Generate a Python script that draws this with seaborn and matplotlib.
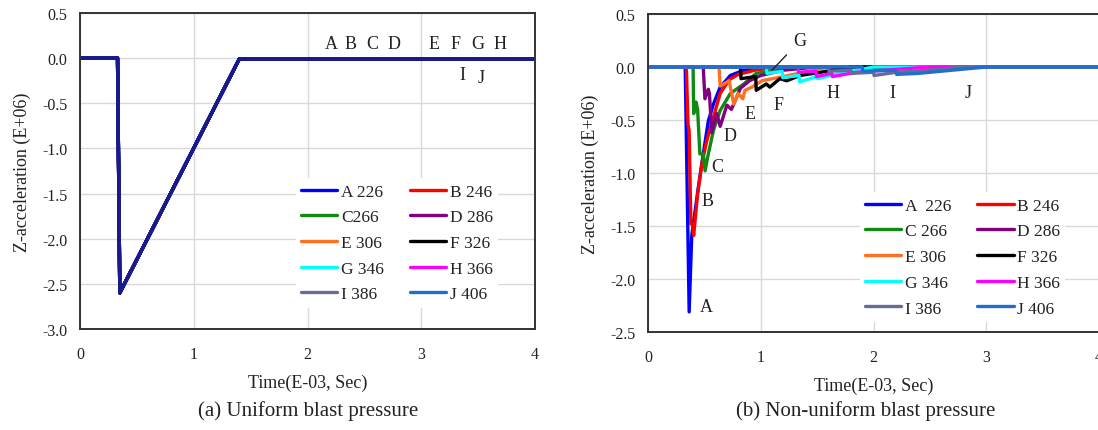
import matplotlib
matplotlib.use("Agg")
import matplotlib.pyplot as plt
from matplotlib.lines import Line2D
from matplotlib.ticker import FormatStrFormatter, MultipleLocator
import pandas as pd
import seaborn as sns

# ---- data -------------------------------------------------------------
series = ["A", "B", "C", "D", "E", "F", "G", "H", "I", "J"]
labels_a = ["A 226", "B 246", "C266", "D 286", "E 306", "F 326", "G 346", "H 366", "I 386", "J 406"]
labels_b = ["A  226", "B 246", "C 266", "D 286", "E 306", "F 326", "G 346", "H 366", "I 386", "J 406"]
colors = ["#0000ff", "#ff0000", "#108a10", "#800080", "#ff7020",
          "#000000", "#00ffff", "#ff00ff", "#6a6a9a", "#1f6fcf"]

# (a) uniform pressure: every gauge gives the same record
uni_t = [0.0, 0.33, 0.35, 1.40, 4.0]
uni_z = [0.0, 0.0, -2.60, -0.01, -0.01]

# (b) non-uniform pressure
a_t = [0, 0.33, 0.365, 0.388, 0.447, 0.49, 0.535, 0.58, 0.64, 0.73, 0.85, 1.0, 4.0]
a_z = [0, 0, -2.31, -1.59, -1.13, -0.82, -0.51, -0.35, -0.19, -0.08, -0.03, 0, 0]
b_t = [0, 0.34, 0.355, 0.365, 0.38, 0.395, 0.405, 0.44, 0.48, 0.52, 0.56, 0.64, 0.72, 0.80, 0.95, 1.15, 4.0]
b_z = [0, 0, -0.54, -0.60, -1.48, -1.48, -1.59, -1.20, -0.90, -0.70, -0.55, -0.25, -0.12, -0.07, -0.03, 0, 0]
c_t = [0, 0.40, 0.405, 0.426, 0.44, 0.46, 0.49, 0.506, 0.535, 0.58, 0.64, 0.73, 0.85, 0.96, 1.3, 4.0]
c_z = [0, 0, -0.44, -0.33, -0.40, -0.82, -0.82, -0.98, -0.82, -0.60, -0.41, -0.25, -0.16, -0.06, 0, 0]
d_t = [0, 0.49, 0.505, 0.535, 0.545, 0.565, 0.61, 0.64, 0.70, 0.74, 0.82, 0.90, 1.0, 1.2, 1.5, 4.0]
d_z = [0, 0, -0.30, -0.21, -0.25, -0.62, -0.44, -0.56, -0.36, -0.40, -0.20, -0.13, -0.08, -0.03, 0, 0]
e_t = [0, 0.63, 0.64, 0.72, 0.76, 0.80, 0.84, 0.86, 0.92, 1.01, 1.2, 1.38, 1.6, 4.0]
e_z = [0, 0, -0.18, -0.13, -0.35, -0.25, -0.30, -0.22, -0.19, -0.13, -0.09, -0.05, 0, 0]
f_t = [0, 0.82, 0.825, 0.955, 0.96, 1.05, 1.08, 1.17, 1.23, 1.35, 1.53, 1.8, 4.0]
f_z = [0, 0, -0.11, -0.09, -0.22, -0.16, -0.19, -0.11, -0.13, -0.08, -0.05, 0, 0]
g_t = [0, 1.05, 1.055, 1.19, 1.195, 1.34, 1.345, 1.5, 1.505, 1.7, 2.0, 4.0]
g_z = [0, 0, -0.06, -0.04, -0.10, -0.08, -0.14, -0.09, -0.11, -0.06, 0, 0]
h_t = [0, 1.33, 1.335, 1.49, 1.495, 1.63, 1.635, 1.85, 2.1, 2.5, 4.0]
h_z = [0, 0, -0.05, -0.04, -0.09, -0.06, -0.09, -0.05, -0.03, 0, 0]
i_t = [0, 1.6, 1.605, 1.8, 1.805, 2.0, 2.005, 2.2, 2.5, 2.8, 4.0]
i_z = [0, 0, -0.04, -0.03, -0.06, -0.05, -0.08, -0.05, -0.03, 0, 0]
j_t = [0, 1.9, 1.905, 2.2, 2.205, 2.4, 2.6, 3.0, 4.0]
j_z = [0, 0, -0.04, -0.03, -0.07, -0.06, -0.04, 0, 0]

# curve labels
lab_a_x = [2.21, 2.38, 2.57, 2.76, 3.11, 3.30, 3.50, 3.69, 3.36, 3.53]
lab_a_y = [0.16, 0.16, 0.16, 0.16, 0.16, 0.16, 0.16, 0.16, -0.18, -0.21]
lab_b_x = [0.515, 0.53, 0.61, 0.73, 0.905, 1.16, 1.35, 1.64, 2.17, 2.84]
lab_b_y = [-2.26, -1.26, -0.94, -0.65, -0.44, -0.35, 0.25, -0.24, -0.24, -0.24]

# ---- long-form tables ---------------------------------------------------
uni = pd.DataFrame([(s, t, z) for s in series for t, z in zip(uni_t, uni_z)],
                   columns=["gauge", "t", "z"])
curves_b = [(a_t, a_z), (b_t, b_z), (c_t, c_z), (d_t, d_z), (e_t, e_z),
            (f_t, f_z), (g_t, g_z), (h_t, h_z), (i_t, i_z), (j_t, j_z)]
nonuni = pd.DataFrame([(s, t, z) for s, (tt, zz) in zip(series, curves_b)
                       for t, z in zip(tt, zz)], columns=["gauge", "t", "z"])

# ---- style --------------------------------------------------------------
sns.set_style("whitegrid")
plt.rcParams["font.family"] = ["Liberation Serif", "DejaVu Serif"]
plt.rcParams["axes.unicode_minus"] = False
ink = "#222222"

fig = plt.figure(figsize=(10.98, 4.31), dpi=100)
ax1 = fig.add_axes([80 / 1098, 1 - 330 / 431, 455 / 1098, 316 / 431])
ax2 = fig.add_axes([648 / 1098, 1 - 333 / 431, 451 / 1098, 318 / 431])


def style_axis(ax, ylim):
    ax.set_xlim(0, 4)
    ax.set_ylim(*ylim)
    ax.xaxis.set_major_locator(MultipleLocator(1))
    ax.yaxis.set_major_locator(MultipleLocator(0.5))
    ax.yaxis.set_major_formatter(FormatStrFormatter("%.1f"))
    ax.grid(True, color="#d9d9d9", linewidth=1.0)
    for sp in ax.spines.values():
        sp.set_color("#333333")
        sp.set_linewidth(1.4)
        sp.set_visible(True)
    ax.tick_params(axis="both", length=0, labelsize=11.5, colors=ink)
    ax.tick_params(axis="x", pad=12)
    ax.tick_params(axis="y", pad=9)
    ax.set_xlabel("Time(E-03, Sec)", fontsize=13, color=ink, labelpad=9)
    ax.set_ylabel("Z-acceleration (E+06)", fontsize=13, color=ink, labelpad=8)


def add_legend(ax, labels, anchor):
    handles = [Line2D([], [], color=c, lw=2.4) for c in colors]
    order = [0, 2, 4, 6, 8, 1, 3, 5, 7, 9]
    leg = ax.legend([handles[k] for k in order], [labels[k] for k in order],
                    ncol=2, loc="lower left", bbox_to_anchor=anchor,
                    frameon=True, fancybox=False, framealpha=1,
                    facecolor="white", edgecolor="none",
                    prop={"size": 12.5}, handlelength=2.1, handletextpad=0.2,
                    labelspacing=0.55, columnspacing=1.5, borderpad=0.3)
    for txt in leg.get_texts():
        txt.set_color(ink)
    leg.set_zorder(5)


# (a)
sns.lineplot(data=uni, x="t", y="z", hue="gauge", palette=["#1a1a8c"] * 10,
             estimator=None, sort=False, lw=2.4, legend=False, ax=ax1)
style_axis(ax1, (-3.0, 0.5))
add_legend(ax1, labels_a, (0.455, 0.04))
for s, x, y in zip(series, lab_a_x, lab_a_y):
    ax1.text(x, y, s, fontsize=13, color=ink, ha="center", va="center")

# (b)
sns.lineplot(data=nonuni, x="t", y="z", hue="gauge", palette=colors,
             estimator=None, sort=False, lw=2.4, legend=False, ax=ax2)
style_axis(ax2, (-2.5, 0.5))
add_legend(ax2, labels_b, (0.45, 0.005))
for s, x, y in zip(series, lab_b_x, lab_b_y):
    if s == "G":
        ax2.annotate(s, xy=(1.10, -0.03), xytext=(x, y), fontsize=13, color=ink,
                     ha="center", va="center",
                     arrowprops=dict(arrowstyle="-", color=ink, lw=1.0,
                                     shrinkA=4, shrinkB=0))
    else:
        ax2.text(x, y, s, fontsize=13, color=ink, ha="center", va="center")

fig.text(308 / 1098, 1 - 411 / 431, "(a) Uniform blast pressure",
         fontsize=15, color=ink, ha="center", va="center")
fig.text(866 / 1098, 1 - 411 / 431, "(b) Non-uniform blast pressure",
         fontsize=15, color=ink, ha="center", va="center")

fig.savefig("out.png", dpi=100)
